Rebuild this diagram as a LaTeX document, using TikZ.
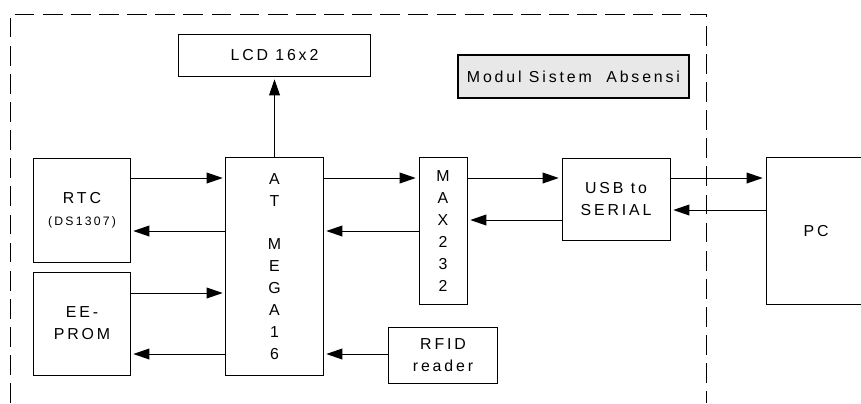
\documentclass[tikz,border=0pt]{standalone}
\usepackage{fontspec}
\setmainfont{Liberation Sans}[LetterSpace=18]
\usetikzlibrary{arrows.meta,positioning}

\begin{document}
\begin{tikzpicture}[x=0.025cm, y=-0.025cm,
  blok/.style={rectangle, draw=black, line width=0.7pt, align=center,
    font=\fontsize{11.3}{15.6}\selectfont, inner sep=0pt},
  panah/.style={-{Triangle[length=0.4cm,width=0.27cm]}, line width=0.7pt,
    shorten >=2pt}]
  \useasboundingbox (0,0) rectangle (861,403);
  \clip (0,0) rectangle (861,403);
  % frame
  \draw[dash pattern=on 14pt off 6pt, line width=0.7pt]
    (10,403) -- (10,14) -- (706,14) -- (706,403);

  % blocks
  \node[blok, minimum width=4.775cm, minimum height=1.05cm] (lcd) at (274.5,55) {LCD 16x2};
  \node[blok, fill=gray!18, line width=1.4pt, minimum width=5.775cm,
    minimum height=1.075cm] (judul) at (573.5,76.5) {Modul Sistem~ Absensi};
  \node[blok, minimum width=2.4cm, minimum height=2.6cm] (rtc) at (82,210)
    {RTC\\{\fontsize{8.7}{10}\selectfont(DS1307)}};
  \node[blok, minimum width=2.4cm, minimum height=2.575cm] (eeprom) at (82,323.5)
    {EE-\\PROM};
  \node[blok, minimum width=2.425cm, minimum height=5.425cm] (atm) at (274.5,266.5)
    {A\\T\\~\\M\\E\\G\\A\\1\\6};
  \node[blok, minimum width=1.2cm, minimum height=3.65cm] (max) at (443,231)
    {M\\A\\X\\2\\3\\2};
  \node[blok, minimum width=2.7cm, minimum height=2.05cm] (usb) at (616,199)
    {USB to\\SERIAL};
  \node[blok, minimum width=2.5cm, minimum height=3.65cm] (pc) at (816,231) {PC};
  \node[blok, minimum width=2.7cm, minimum height=1.4cm] (rfid) at (443,355)
    {RFID\\reader};

  % rows of the connectors
  \coordinate (r1) at (0,178);
  \coordinate (r2) at (0,231);
  \coordinate (r3) at (0,293);
  \coordinate (r4) at (0,354);
  \coordinate (r5) at (0,220);
  \coordinate (r6) at (0,210);

  % connectors
  \draw[panah] (atm.north) -- (lcd.south);
  \draw[panah] (rtc.east |- r1) -- (atm.west |- r1);
  \draw[panah] (atm.west |- r2) -- (rtc.east |- r2);
  \draw[panah] (eeprom.east |- r3) -- (atm.west |- r3);
  \draw[panah] (atm.west |- r4) -- (eeprom.east |- r4);
  \draw[panah] (atm.east |- r1) -- (max.west |- r1);
  \draw[panah] (max.west |- r2) -- (atm.east |- r2);
  \draw[panah] (rfid.west |- r4) -- (atm.east |- r4);
  \draw[panah] (max.east |- r1) -- (usb.west |- r1);
  \draw[panah] (usb.west |- r5) -- (max.east |- r5);
  \draw[panah] (usb.east |- r1) -- (pc.west |- r1);
  \draw[panah] (pc.west |- r6) -- (usb.east |- r6);
\end{tikzpicture}
\end{document}
